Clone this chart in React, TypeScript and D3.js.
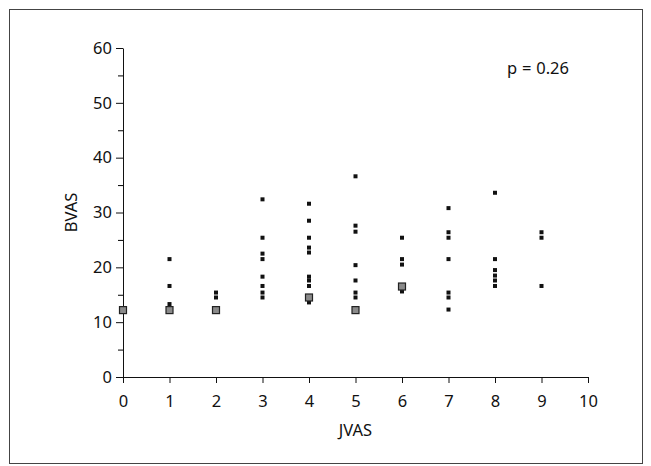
import React, { useEffect, useRef } from "react";
import * as d3 from "d3";

// Single observations: JVAS (x) and BVAS (y)
const jvas = [
  1, 1, 1,
  2, 2,
  3, 3, 3, 3, 3, 3, 3, 3,
  4, 4, 4, 4, 4, 4, 4, 4, 4,
  5, 5, 5, 5, 5, 5, 5,
  6, 6, 6, 6,
  7, 7, 7, 7, 7, 7, 7,
  8, 8, 8, 8, 8, 8,
  9, 9, 9,
];
const bvas = [
  21.5, 16.6, 13.3,
  15.4, 14.5,
  32.4, 25.4, 22.5, 21.5, 18.3, 16.6, 15.4, 14.5,
  31.6, 28.5, 25.4, 23.6, 22.7, 18.3, 17.6, 16.6, 13.6,
  36.6, 27.6, 26.5, 20.4, 17.6, 15.4, 14.5,
  25.4, 21.5, 20.5, 15.6,
  30.8, 26.4, 25.4, 21.5, 15.4, 14.5, 12.3,
  33.6, 21.5, 19.5, 18.5, 17.6, 16.6,
  26.4, 25.4, 16.6,
];
// Overlapping (multiple) observations, drawn as larger grey squares
const multiJvas = [0, 1, 2, 4, 5, 6];
const multiBvas = [12.2, 12.2, 12.2, 14.5, 12.2, 16.5];

const xTicks = [0, 1, 2, 3, 4, 5, 6, 7, 8, 9, 10];
const yTicks = [0, 10, 20, 30, 40, 50, 60];
const yMinorTicks = [5, 15, 25, 35, 45, 55];
const xLabel = "JVAS";
const yLabel = "BVAS";
const annotation = "p = 0.26";

const W = 651;
const H = 466;
const FONT = "'Noto Sans', 'Open Sans', sans-serif";
const FS = 16.5;

export default function App() {
  const ref = useRef<SVGSVGElement>(null);

  useEffect(() => {
    const svg = d3.select(ref.current);
    svg.selectAll("*").remove();

    const x = d3.scaleLinear().domain([0, 10]).range([123, 588]);
    const y = d3.scaleLinear().domain([0, 60]).range([377, 48]);

    svg
      .append("rect")
      .attr("x", 9.5)
      .attr("y", 9.5)
      .attr("width", 633)
      .attr("height", 454)
      .attr("fill", "white")
      .attr("stroke", "#444")
      .attr("stroke-width", 1);

    const xAxis = svg
      .append("g")
      .attr("transform", `translate(0,${y(0)})`)
      .call(
        d3.axisBottom(x).tickValues(xTicks).tickFormat(d3.format("d")).tickSizeInner(6).tickSizeOuter(0).tickPadding(12)
      );
    const yAxis = svg
      .append("g")
      .attr("transform", `translate(${x(0)},0)`)
      .call(
        d3.axisLeft(y).tickValues(yTicks).tickFormat(d3.format("d")).tickSizeInner(7).tickSizeOuter(0).tickPadding(4)
      );
    svg
      .append("g")
      .attr("transform", `translate(${x(0)},0)`)
      .call(d3.axisLeft(y).tickValues(yMinorTicks).tickFormat(() => "").tickSizeInner(5).tickSizeOuter(0))
      .call((g) => g.select(".domain").remove());

    [xAxis, yAxis].forEach((g) => {
      g.selectAll("text").attr("font-family", FONT).attr("font-size", FS).attr("fill", "#111");
      g.selectAll("line").attr("stroke", "#111");
      g.select(".domain").attr("stroke", "#111");
    });

    svg
      .append("text")
      .attr("x", (x(0) + x(10)) / 2)
      .attr("y", 436)
      .attr("text-anchor", "middle")
      .attr("font-family", FONT)
      .attr("font-size", FS)
      .attr("fill", "#111")
      .text(xLabel);

    svg
      .append("text")
      .attr("transform", `translate(77,${(y(0) + y(60)) / 2}) rotate(-90)`)
      .attr("text-anchor", "middle")
      .attr("font-family", FONT)
      .attr("font-size", FS)
      .attr("fill", "#111")
      .text(yLabel);

    svg
      .append("text")
      .attr("x", 538)
      .attr("y", 74)
      .attr("text-anchor", "middle")
      .attr("font-family", FONT)
      .attr("font-size", FS)
      .attr("word-spacing", 0.5)
      .attr("fill", "#111")
      .text(annotation);

    const singles = jvas.map((j, i) => ({ j, b: bvas[i] }));
    svg
      .append("g")
      .selectAll("rect")
      .data(singles)
      .join("rect")
      .attr("x", (d) => x(d.j) - 2)
      .attr("y", (d) => y(d.b) - 2)
      .attr("width", 4)
      .attr("height", 4)
      .attr("fill", "#111");

    const multis = multiJvas.map((j, i) => ({ j, b: multiBvas[i] }));
    svg
      .append("g")
      .selectAll("rect")
      .data(multis)
      .join("rect")
      .attr("x", (d) => x(d.j) - 3.5)
      .attr("y", (d) => y(d.b) - 3.5)
      .attr("width", 7)
      .attr("height", 7)
      .attr("fill", "#8a8a8a")
      .attr("stroke", "#222")
      .attr("stroke-width", 1.2);
  }, []);

  return (
    <svg
      ref={ref}
      width={W}
      height={H}
      style={{ position: "absolute", left: 0, top: 0, background: "white" }}
    />
  );
}
